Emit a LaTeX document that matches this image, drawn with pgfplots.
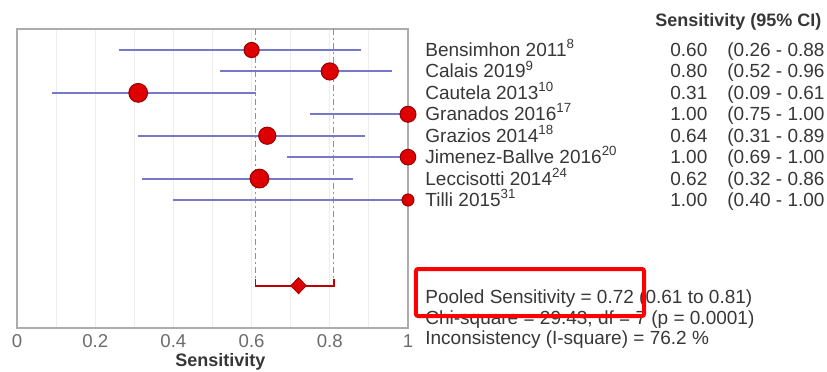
\documentclass[border=0pt]{standalone}
\usepackage{fontspec}
\setmainfont{Liberation Sans}
\usepackage{pgfplots}
\pgfplotsset{compat=1.18}
\usepackage{pgfplotstable}
\definecolor{mred}{RGB}{222,0,0}
\definecolor{mredd}{RGB}{150,0,0}
\definecolor{cib}{RGB}{120,120,200}
\definecolor{txt}{RGB}{55,55,55}
\definecolor{dashc}{RGB}{200,120,130}
\pgfplotstableread{
y est lo hi ms
1 0.60 0.26 0.88 3.8
2 0.80 0.52 0.96 4.3
3 0.31 0.09 0.61 4.7
4 1.00 0.75 1.00 4.0
5 0.64 0.31 0.89 4.3
6 1.00 0.69 1.00 3.9
7 0.62 0.32 0.86 4.7
8 1.00 0.40 1.00 3.0
}\studies
\begin{document}
\begin{tikzpicture}
\begin{axis}[at={(0,0)}, anchor=south west, scale only axis,
  width=195.5pt, height=149.2pt,
  xmin=0, xmax=1, ymin=0.034, ymax=13.96, y dir=reverse, clip=false,
  axis line style={gray!65, line width=0.9pt},
  ytick=\empty, xtick={0,0.2,0.4,0.6,0.8,1}, minor xtick={0.1,0.3,0.5,0.7,0.9},
  xmajorgrids, xminorgrids, grid style={gray!14, line width=0.5pt},
  major tick length=0pt, minor tick length=0pt,
  /pgf/number format/assume math mode=true,
  xticklabel style={font=\fontsize{9.3}{10}\selectfont, text=gray!85!black},
  xlabel={\textbf{Sensitivity}},
  xlabel style={font=\fontsize{9}{10}\selectfont, text=txt, at={(axis description cs:0.52,0)}, anchor=center, yshift=-17pt},
]
\addplot[dashc, dash pattern=on 3pt off 1.5pt on 1pt off 1.5pt, line width=0.6pt, forget plot] coordinates {(0.61,0.034) (0.61,12)};
\addplot[dashc, dash pattern=on 3pt off 1.5pt on 1pt off 1.5pt, line width=0.6pt, forget plot] coordinates {(0.81,0.034) (0.81,12)};
\addplot[mred!85!black, line width=0.9pt, forget plot] coordinates {(0.61,11.7) (0.61,12) (0.81,12) (0.81,11.7)};
\addplot[draw=none, mark=none, forget plot,
  error bars/.cd, x dir=both, x explicit, error mark=none,
  error bar style={cib, line width=1pt}]
  table[x=est, y=y, x error minus expr=\thisrow{est}-\thisrow{lo}, x error plus expr=\thisrow{hi}-\thisrow{est}] {\studies};
\addplot[scatter, only marks, mark=*,
  scatter/use mapped color={draw=mredd, fill=mred},
  mark options={line width=0.5pt},
  visualization depends on={\thisrow{ms} \as \msize},
  scatter/@pre marker code/.append style={/tikz/mark size=\msize pt}]
  table[x=est, y=y] {\studies};
\addplot[only marks, mark=diamond*, mark size=4pt, mark options={fill=mred, draw=mredd, line width=0.4pt, xscale=1.3}] coordinates {(0.72,12)};
\end{axis}
\begin{scope}[xshift=-8.5pt, yshift=163.85pt, x=0.5pt, y=-0.5pt,
  every node/.style={inner sep=0pt, anchor=base west, font=\fontsize{9.5}{10}\selectfont, text=txt}]
\node[font=\fontsize{9}{10}\selectfont] at (655,26) {\textbf{Sensitivity (95\% CI)}};
\node at (425,56) {Bensimhon 2011\textsuperscript{8}};
\node at (425,77.7) {Calais 2019\textsuperscript{9}};
\node at (425,99.3) {Cautela 2013\textsuperscript{10}};
\node at (425,120.3) {Granados 2016\textsuperscript{17}};
\node at (425,142) {Grazios 2014\textsuperscript{18}};
\node at (425,163.3) {Jimenez-Ballve 2016\textsuperscript{20}};
\node at (425,185) {Leccisotti 2014\textsuperscript{24}};
\node at (425,206) {Tilli 2015\textsuperscript{31}};
\node at (670,56) {0.60};
\node at (670,77.7) {0.80};
\node at (670,99.3) {0.31};
\node at (670,120.3) {1.00};
\node at (670,142) {0.64};
\node at (670,163.3) {1.00};
\node at (670,185) {0.62};
\node at (670,206) {1.00};
\node at (727,56) {(0.26 - 0.88};
\node at (727,77.7) {(0.52 - 0.96};
\node at (727,99.3) {(0.09 - 0.61};
\node at (727,120.3) {(0.75 - 1.00};
\node at (727,142) {(0.31 - 0.89};
\node at (727,163.3) {(0.69 - 1.00};
\node at (727,185) {(0.32 - 0.86};
\node at (727,206) {(0.40 - 1.00};
\node at (425,303) {Pooled Sensitivity = 0.72 (0.61 to 0.81)};
\node at (425,324) {Chi-square = 29.43, df = 7 (p = 0.0001)};
\node at (425,344) {Inconsistency (I-square) = 76.2 \%};
\draw[red, line width=2pt, rounded corners=1pt] (416,269) rectangle (644,316);
\pgfresetboundingbox
\useasboundingbox (0,0) rectangle (827,371);
\end{scope}
\end{tikzpicture}
\end{document}
